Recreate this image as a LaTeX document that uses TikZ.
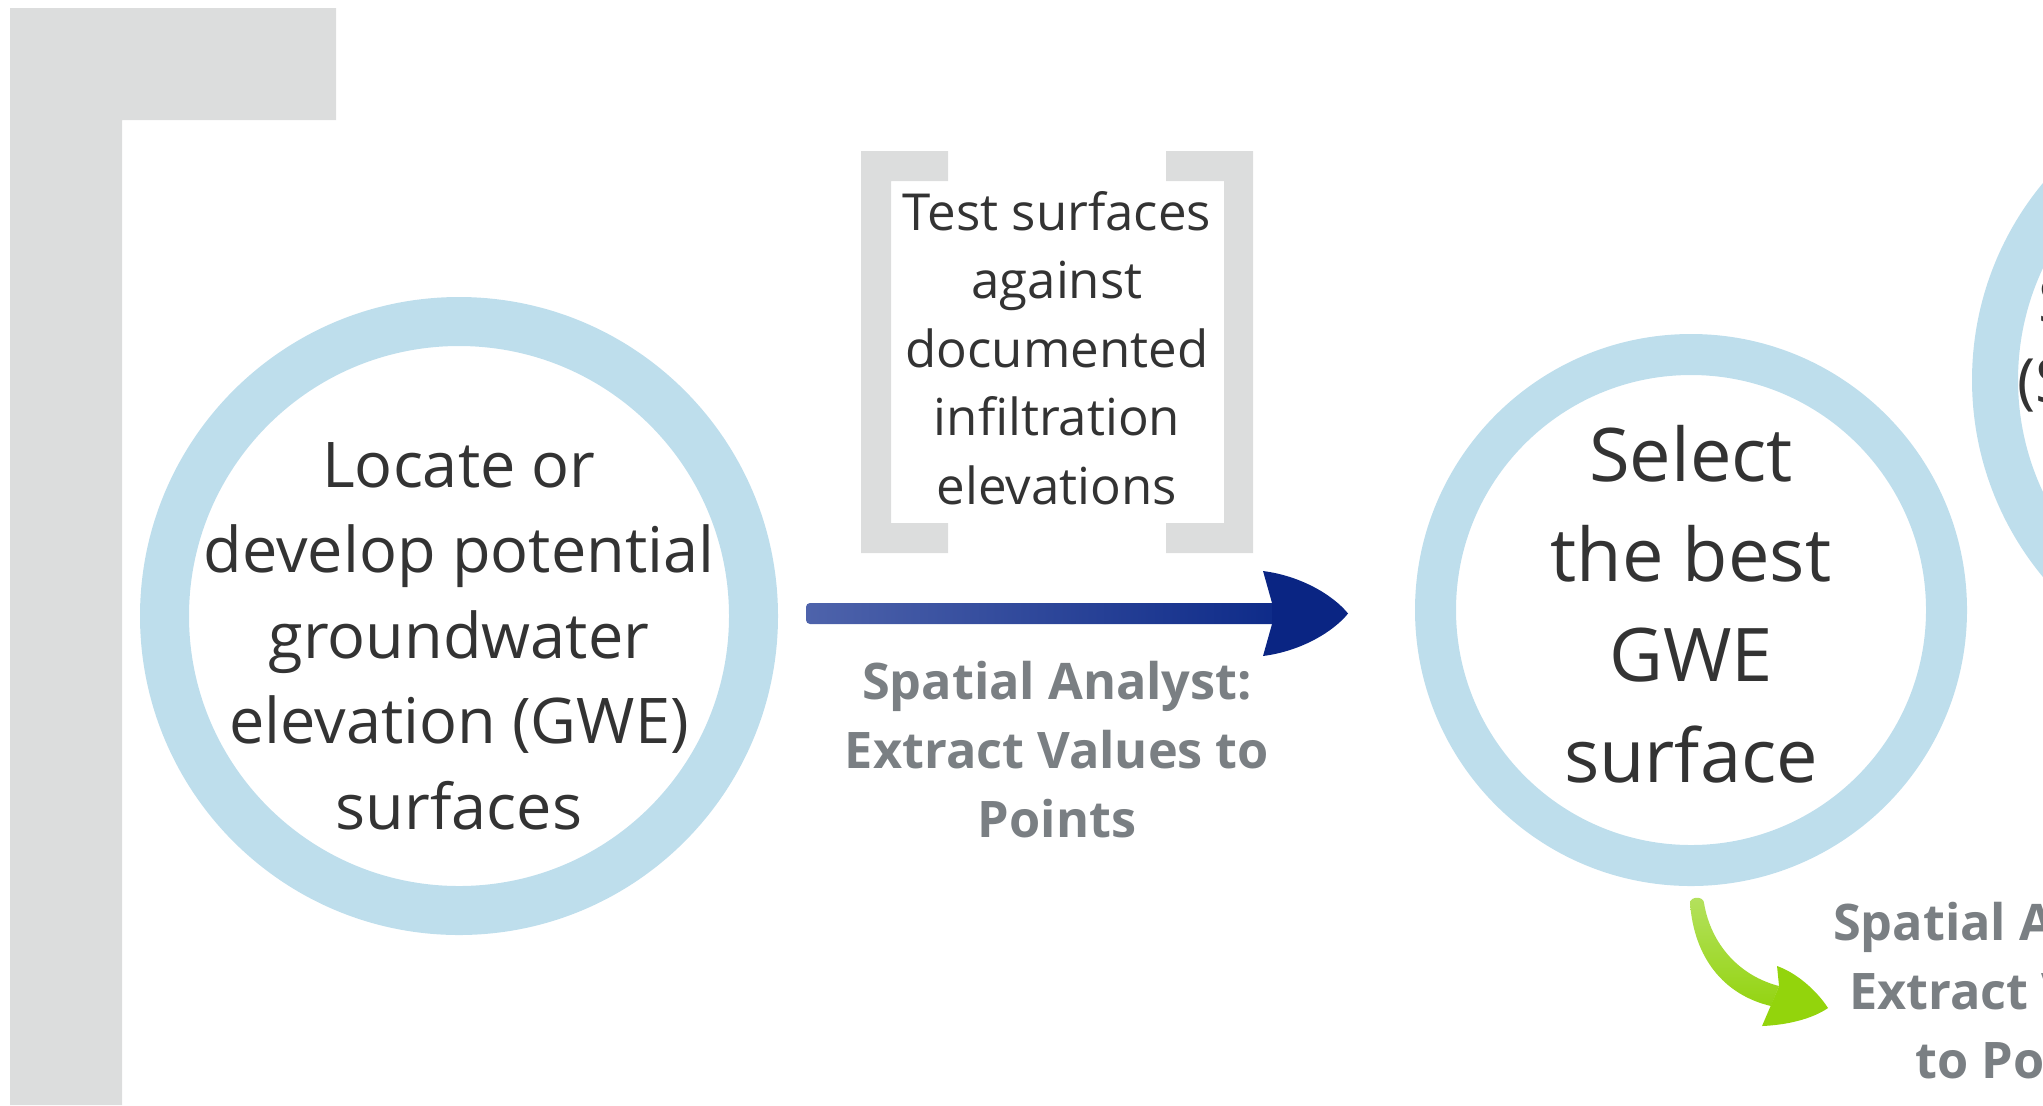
\documentclass[tikz,border=0pt]{standalone}
\usepackage{fontspec}
\setmainfont{Open Sans}
\definecolor{graybar}{HTML}{DCDDDD}
\definecolor{ring}{HTML}{BEDEEC}
\definecolor{txt}{HTML}{333333}
\definecolor{lblgray}{HTML}{7A7F83}
\definecolor{blueL}{HTML}{4E63AB}
\definecolor{blueR}{HTML}{0E2B89}
\definecolor{blueH}{HTML}{0A2583}
\definecolor{greenT}{HTML}{B4E15E}
\definecolor{greenB}{HTML}{94D412}
\definecolor{greenH}{HTML}{93D40C}
\tikzset{
  ringnode/.style={circle, draw=ring, inner sep=0pt},
  steptext/.style={align=center, text=txt, inner sep=0pt},
  lbl/.style={align=center, text=lblgray, inner sep=0pt, font=\bfseries\fontsize{25.2pt}{34.5pt}\selectfont},
}
\begin{document}
\begin{tikzpicture}[x=0.5pt,y=-0.5pt]
\useasboundingbox (0,0) rectangle (2043,1105);
% gray L-shaped frame
\fill[graybar] (10,8) -- (336,8) -- (336,120) -- (122,120) -- (122,1105) -- (10,1105) -- cycle;
% circles
\node[ringnode, line width=24.5pt, minimum size=294.5pt] (c1) at (459,616) {};
\node[ringnode, line width=20.5pt, minimum size=255.5pt] (c2) at (1691,610) {};
\node[ringnode, line width=23pt, minimum size=286pt] (c3) at (2281,380) {};
% circle texts
\node[steptext, font=\fontsize{31.5pt}{42.8pt}\selectfont] (t1) at (459,636)
  {Locate or\\develop potential\\groundwater\\elevation (GWE)\\surfaces};
\node[steptext, font=\fontsize{37pt}{50.2pt}\selectfont] (t2) at (1691,604)
  {Select\\the best\\GWE\\surface};
\node[steptext, anchor=base west, font=\fontsize{30.5pt}{41pt}\selectfont] (t3a) at (2038,322) {S};
\node[steptext, anchor=base west, font=\fontsize{30.5pt}{41pt}\selectfont] (t3b) at (2017,402) {(S};
% brackets
\fill[graybar] (861,151) -- (948,151) -- (948,181) -- (891,181) -- (891,523) -- (948,523) -- (948,553) -- (861,553) -- cycle;
\fill[graybar] (1253,151) -- (1166,151) -- (1166,181) -- (1224,181) -- (1224,523) -- (1166,523) -- (1166,553) -- (1253,553) -- cycle;
\node[steptext, font=\fontsize{25.5pt}{34.3pt}\selectfont] (tb) at (1057,348)
  {Test surfaces\\against\\documented\\infiltration\\elevations};
% blue arrow
\coordinate (a1s) at (806,613.5);
\coordinate (a1e) at (1348,613.5);
\shade[left color=blueL, right color=blueR, rounded corners=2pt] (a1s) ++(0,-10.5) rectangle (1276,624);
\fill[blueH] (1263,571) .. controls (1302,576) and (1334,596) .. (a1e)
  .. controls (1334,631) and (1302,651) .. (1263,656) -- (1272,624) -- (1272,603) -- cycle;
\node[lbl] (l1) at (1057,750) {Spatial Analyst:\\Extract Values to\\Points};
% green arrow
\coordinate (g1s) at (1697,899);
\coordinate (g1e) at (1828,1008);
\shade[top color=greenT, bottom color=greenB]
  (1690,903) .. controls (1694,958) and (1724,995) .. (1771,1006)
  -- (1779,986) .. controls (1740,976) and (1711,945) .. (1704,903)
  .. controls (1704,896) and (1690,896) .. cycle;
\fill[greenH] (1777,966) .. controls (1797,973) and (1817,991) .. (g1e)
  .. controls (1812,1019) and (1787,1025) .. (1762,1026) -- (1771,1005) -- (1779,986) -- cycle;
\node[lbl] (l2) at (2028,991) {Spatial Analyst:\\Extract Values\\to Points};
\end{tikzpicture}
\end{document}
